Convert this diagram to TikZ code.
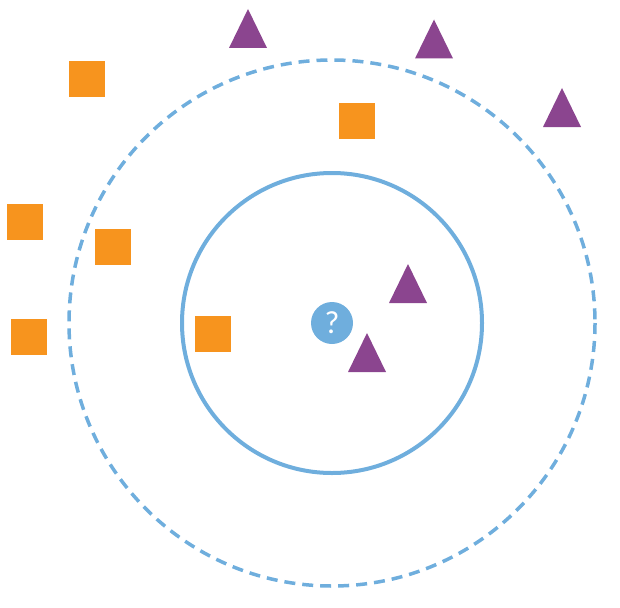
\documentclass[tikz,border=0pt]{standalone}
\usepackage{fontspec}
\setmainfont{Carlito}
\usepackage{tikz}

\definecolor{knnorange}{RGB}{247,148,30}
\definecolor{knnpurple}{RGB}{139,69,143}
\definecolor{knnblue}{RGB}{111,174,221}

\tikzset{
  sq/.style={fill=knnorange, minimum size=36pt, inner sep=0pt},
  query/.style={circle, fill=knnblue, minimum size=42pt, inner sep=0pt, text=white, font=\fontsize{32}{32}\selectfont},
}
% triangle drawn around a named coordinate
\newcommand{\trimark}[1]{\fill[knnpurple] (#1) ++(0,-19.5) -- ++(19,39) -- ++(-38,0) -- cycle;}

\begin{document}
\begin{tikzpicture}[x=1pt, y=-1pt]
            \useasboundingbox (0,0) rectangle (620,607);

            \draw[knnblue, line width=3.5pt, dash pattern=on 11pt off 7pt] (332,323) circle (263);
            \draw[knnblue, line width=4pt] (332,323) circle (150);

            \node[query] (q) at (332,323) {?};

            \node[sq] (s1) at (87,79) {};
            \node[sq] (s2) at (357,121) {};
            \node[sq] (s3) at (24.5,222) {};
            \node[sq] (s4) at (113,247) {};
            \node[sq] (s5) at (29,337) {};
            \node[sq] (s6) at (213,334) {};

            \coordinate (t1) at (248,28.5);
            \coordinate (t2) at (434,39);
            \coordinate (t3) at (562,107.5);
            \coordinate (t4) at (408,283.5);
            \coordinate (t5) at (367,352.5);
            \trimark{t1} \trimark{t2} \trimark{t3} \trimark{t4} \trimark{t5}
        \end{tikzpicture}
\end{document}
